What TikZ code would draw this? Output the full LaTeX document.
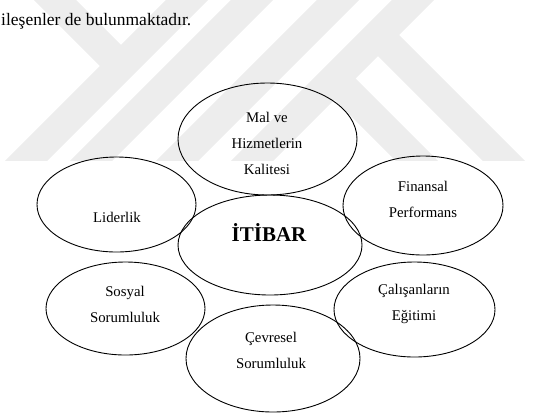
\documentclass[tikz,border=0pt]{standalone}
\usepackage{fontspec}
\setmainfont{Liberation Serif}
\usetikzlibrary{shapes.geometric}
\begin{document}
\begin{tikzpicture}[x=1pt,y=-1pt,
  oval/.style={ellipse,draw=black,line width=0.9pt,inner sep=0pt,outer sep=0pt},
  lbl/.style={align=center,font=\fontsize{14.8}{26}\selectfont,inner sep=0pt},
  wm/.style={line width=30pt,draw=black!7,line cap=butt}]
\useasboundingbox (0,0) rectangle (540,416);
% faint watermark
\begin{scope}
\clip (0,0) rectangle (540,160);
\draw[wm] (207,-20) -- (7,180);
\draw[wm] (35,-20) -- (121,66);
\draw[wm] (272,-20) -- (72,180);
\draw[wm] (358,-20) -- (158,180);
\draw[wm] (433,-20) -- (233,180);
\draw[wm] (378,35) -- (523,180);
\draw[wm] (334,78) -- (436,180);
\end{scope}
% running text
\node[anchor=base west,inner sep=0pt,font=\fontsize{17.5}{20}\selectfont] (txt) at (1,25.5) {ileşenler de bulunmaktadır.};
% ellipses
\node[oval,minimum width=179pt,minimum height=112pt] (mal) at (267.5,139) {};
\node[oval,minimum width=159pt,minimum height=95pt] (lid) at (116.5,204.5) {};
\node[oval,minimum width=160pt,minimum height=99pt] (fin) at (423,205.5) {};
\node[oval,minimum width=184pt,minimum height=100pt] (itb) at (270,245) {};
\node[oval,minimum width=159pt,minimum height=93pt] (sos) at (125.5,308.5) {};
\node[oval,minimum width=161pt,minimum height=95pt] (cal) at (414.5,309.5) {};
\node[oval,minimum width=174pt,minimum height=107pt] (cev) at (273,358.5) {};
% labels
\node[lbl] (maltxt) at (267,143) {Mal ve\\Hizmetlerin\\Kalitesi};
\node[lbl] (lidtxt) at (117,217) {Liderlik};
\node[lbl] (fintxt) at (423,199.5) {Finansal\\Performans};
\node[inner sep=0pt,font=\fontsize{21}{24}\selectfont\bfseries] (itbtxt) at (269,233) {İTİBAR};
\node[lbl] (sostxt) at (125,304) {Sosyal\\Sorumluluk};
\node[lbl] (caltxt) at (414,304) {Çalışanların\\Eğitimi};
\node[lbl] (cevtxt) at (271,350) {Çevresel\\Sorumluluk};
\end{tikzpicture}
\end{document}
